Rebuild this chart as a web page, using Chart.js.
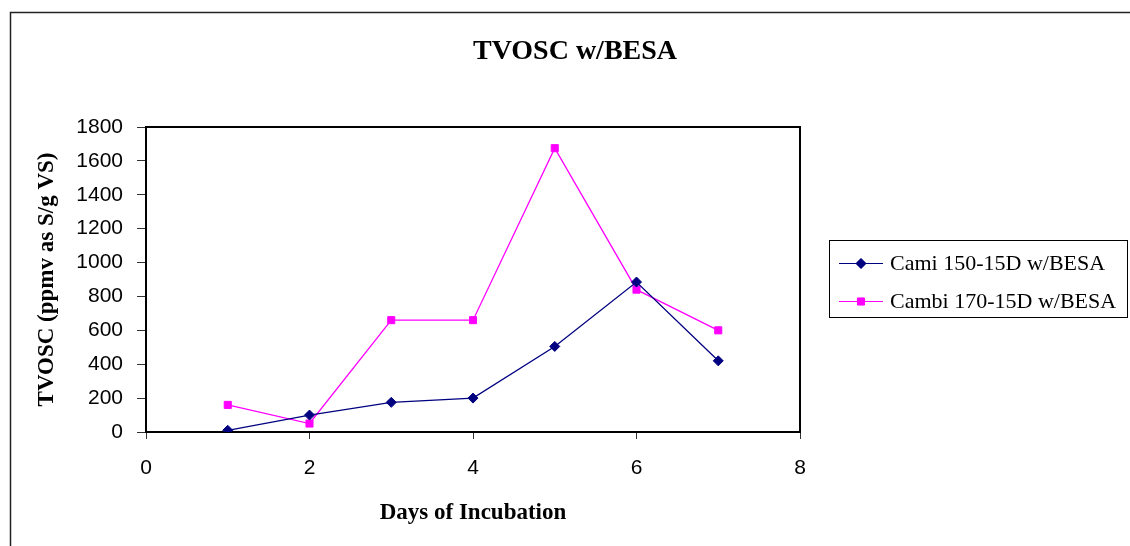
<!DOCTYPE html>
<html>
<head>
<meta charset="utf-8">
<title>TVOSC w/BESA</title>
<script src="https://cdn.jsdelivr.net/npm/chart.js@4.4.1/dist/chart.umd.min.js"></script>
<style>
  html, body { margin: 0; padding: 0; background: #fff; }
  #wrap { width: 1130px; height: 546px; }
</style>
</head>
<body>
<div id="wrap"><canvas id="myChart" width="1130" height="546"></canvas></div>
<script>
// Days of incubation and measured TVOSC (ppmv as S/g VS)
const days = [1, 2, 3, 4, 5, 6, 7];
const cami150 = [10, 100, 175, 200, 505, 885, 420];
const cambi170 = [160, 50, 660, 660, 1675, 840, 600];

const seriesNames = ["Cami 150-15D w/BESA", "Cambi 170-15D w/BESA"];
const seriesColors = ["#000080", "#FF00FF"];
const seriesPoints = ["rectRot", "rect"];

const chartTitle = "TVOSC w/BESA";

function toXY(vals) {
    let pts = [];
    for (let i = 0; i < days.length; i++) {
        pts.push({ x: days[i], y: vals[i] });
    }
    return pts;
}

// Frame around the whole chart, box round the plot, title and legend
const decorations = {
    id: 'decorations',
    beforeDatasetsDraw(chart) {
        const ctx = chart.ctx;
        const a = chart.chartArea;
        ctx.save();
        ctx.strokeStyle = '#000';
        ctx.lineWidth = 2;
        ctx.strokeRect(a.left, a.top, a.right - a.left, a.bottom - a.top);
        ctx.restore();
    },
    afterDraw(chart) {
        const ctx = chart.ctx;
        ctx.save();

        // outer frame (top and left edges visible)
        ctx.strokeStyle = '#222';
        ctx.lineWidth = 1.5;
        ctx.beginPath();
        ctx.moveTo(10.5, 546);
        ctx.lineTo(10.5, 12.5);
        ctx.lineTo(1130, 12.5);
        ctx.stroke();

        // title
        ctx.fillStyle = '#000';
        ctx.font = 'bold 28px "Liberation Serif", "Times New Roman", serif';
        ctx.textAlign = 'center';
        ctx.textBaseline = 'middle';
        ctx.fillText(chartTitle, 575, 52);

        // legend box
        ctx.strokeStyle = '#000';
        ctx.lineWidth = 1;
        ctx.strokeRect(829.5, 240.5, 298, 77);
        ctx.font = '22px "Liberation Serif", "Times New Roman", serif';
        ctx.textAlign = 'left';
        const rows = [263, 301];
        for (let i = 0; i < seriesNames.length; i++) {
            const y = rows[i];
            ctx.strokeStyle = seriesColors[i];
            ctx.lineWidth = 1;
            ctx.beginPath();
            ctx.moveTo(839, y + 0.5);
            ctx.lineTo(883, y + 0.5);
            ctx.stroke();
            ctx.fillStyle = seriesColors[i];
            Chart.helpers.drawPoint(ctx, {
                pointStyle: seriesPoints[i], radius: 5, borderWidth: 1
            }, 861, y + 0.5);
            ctx.fill();
            ctx.fillStyle = '#000';
            ctx.fillText(seriesNames[i], 890, y + 1);
        }
        ctx.restore();
    }
};

let datasets = [];
let allSeries = [cami150, cambi170];
for (let i = 0; i < allSeries.length; i++) {
    datasets.push({
        label: seriesNames[i],
        data: toXY(allSeries[i]),
        borderColor: seriesColors[i],
        backgroundColor: seriesColors[i],
        borderWidth: 1.3,
        pointStyle: seriesPoints[i],
        pointRadius: 5,
        pointHoverRadius: 5,
        pointBorderWidth: 1,
        pointBorderColor: seriesColors[i],
        pointBackgroundColor: seriesColors[i],
        fill: false,
        tension: 0
    });
}

const plainNumber = function(value) { return String(value); };

const config = {
    type: 'line',
    data: { datasets: datasets },
    options: {
        responsive: false,
        animation: false,
        layout: { padding: { left: 0, top: 127, right: 330, bottom: 0 } },
        plugins: {
            legend: { display: false },
            title: { display: false },
            tooltip: { enabled: false }
        },
        scales: {
            x: {
                type: 'linear',
                min: 0,
                max: 8,
                afterFit(scale) { scale.height = 114; },
                ticks: {
                    stepSize: 2,
                    padding: 17,
                    color: '#000',
                    callback: plainNumber,
                    font: { family: '"Liberation Sans", Arial, sans-serif', size: 21 }
                },
                grid: {
                    drawOnChartArea: false,
                    drawTicks: true,
                    tickLength: 7,
                    tickColor: '#333'
                },
                border: { display: false },
                title: {
                    display: true,
                    text: 'Days of Incubation',
                    color: '#000',
                    padding: { top: 0, bottom: 19 },
                    font: { family: '"Liberation Serif", "Times New Roman", serif', size: 23, weight: 'bold' }
                }
            },
            y: {
                min: 0,
                max: 1800,
                afterFit(scale) { scale.width = 146; },
                ticks: {
                    stepSize: 200,
                    padding: 14,
                    color: '#000',
                    callback: plainNumber,
                    font: { family: '"Liberation Sans", Arial, sans-serif', size: 21 }
                },
                grid: {
                    drawOnChartArea: false,
                    drawTicks: true,
                    tickLength: 9,
                    tickColor: '#333'
                },
                border: { display: false },
                title: {
                    display: true,
                    text: 'TVOSC (ppmv as S/g VS)',
                    color: '#000',
                    padding: { top: 33, bottom: 0 },
                    font: { family: '"Liberation Serif", "Times New Roman", serif', size: 23, weight: 'bold' }
                }
            }
        }
    },
    plugins: [decorations]
};

const myChart = new Chart(document.getElementById('myChart'), config);
</script>
</body>
</html>
